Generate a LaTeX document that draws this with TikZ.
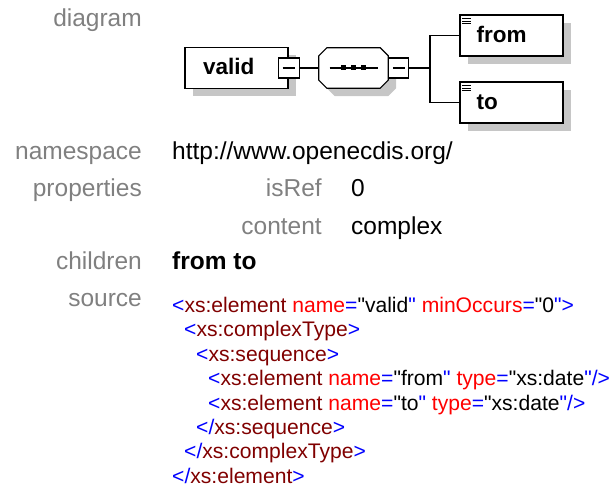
\documentclass[tikz,border=0pt]{standalone}
\usepackage{fontspec}
\setmainfont{Liberation Sans}
\newfontfamily\codefont{Liberation Sans}
\usetikzlibrary{positioning,shadows}
\definecolor{lblgray}{HTML}{808080}
\definecolor{xmlblue}{HTML}{0000FF}
\definecolor{xmlname}{HTML}{800000}
\definecolor{xmlattr}{HTML}{FF0000}
\definecolor{shadowgray}{HTML}{C6C6C6}
\newcommand{\xb}[1]{\textcolor{xmlblue}{#1}}
\newcommand{\xn}[1]{\textcolor{xmlname}{#1}}
\newcommand{\xa}[1]{\textcolor{xmlattr}{#1}}

\begin{document}
\begin{tikzpicture}[x=1pt, y=-1pt,
  lbl/.style={anchor=base east, inner sep=0pt, text=lblgray, font=\fontsize{24.5}{29}\selectfont},
  val/.style={anchor=base west, inner sep=0pt, font=\fontsize{24.5}{29}\selectfont},
  src/.style={anchor=base west, inner sep=0pt, font=\codefont\fontsize{21.1}{25}\selectfont},
  shade/.style={general shadow={fill=shadowgray, shadow xshift=8pt, shadow yshift=-8pt}},
  elem/.style={draw, line width=1.2pt, fill=white, minimum width=103pt, minimum height=41pt, inner sep=0pt, shade},
  etext/.style={anchor=base west, inner sep=0pt, font=\fontsize{22.5}{26}\selectfont\bfseries},
  minus/.style={draw, line width=1.2pt, fill=white, minimum width=21pt, minimum height=20pt, inner sep=0pt,
    path picture={\draw[line width=1.2pt] ([xshift=-6pt]path picture bounding box.center) -- ([xshift=6pt]path picture bounding box.center);}},
  seqbox/.style={minimum width=69pt, minimum height=40pt, inner sep=0pt},
  conn/.style={line width=1.2pt},
  dot/.style={fill, minimum size=5pt, inner sep=0pt}
]
  \useasboundingbox (0,0) rectangle (614,489);

  % diagram
  \node[elem] (valid) at (236.5,68) {};
  \node[etext] (validtxt) at (203,75) {valid};
  \node[minus] (vminus) at (valid.east) {};

  \node[seqbox] (seq) at (353.5,68) {};
  \filldraw[conn, fill=white, shade] ([xshift=8pt]seq.north west) -- ([xshift=-8pt]seq.north east)
    -- ([yshift=-8pt]seq.north east) -- ([yshift=8pt]seq.south east) -- ([xshift=-8pt]seq.south east)
    -- ([xshift=8pt]seq.south west) -- ([yshift=8pt]seq.south west) -- ([yshift=-8pt]seq.north west) -- cycle;
  \draw[conn] ([xshift=-24pt]seq.center) -- ([xshift=24pt]seq.center);
  \foreach \d in {-10,0,10}
    \node[dot] at ([xshift=\d pt]seq.center) {};
  \node[minus, minimum width=20pt, right=0pt of seq] (sminus) {};

  \node[elem] (from) at (511.5,35.5) {};
  \node[elem] (to) at (511.5,102.5) {};
  \node[etext] (fromtxt) at ([xshift=17pt,yshift=-28pt]from.north west) {from};
  \node[etext] (totxt) at ([xshift=17pt,yshift=-28pt]to.north west) {to};
  \foreach \b in {from,to}
    \foreach \dy in {4.3,6.7,9}
      \draw[line width=0.9pt] ([xshift=3pt,yshift=-\dy pt]\b.north west) -- ([xshift=12pt,yshift=-\dy pt]\b.north west);

  \coordinate (fork) at (430,68);
  \draw[conn] (vminus.east) -- (seq.west);
  \draw[conn] (sminus.east) -- (fork);
  \draw[conn] (fork) |- (from.west);
  \draw[conn] (fork) |- (to.west);

  % table
  \node[lbl] (ldiagram) at (142,27) {diagram};
  \node[lbl] (lnamespace) at (142,160) {namespace};
  \node[val] (vnamespace) at (172,160) {http://www.openecdis.org/};
  \node[lbl] (lproperties) at (142,197) {properties};
  \node[lbl] (lisref) at (322,197) {isRef};
  \node[val] (visref) at (351,197) {0};
  \node[lbl] (lcontent) at (322,235) {content};
  \node[val] (vcontent) at (351,235) {complex};
  \node[lbl] (lchildren) at (142,270) {children};
  \node[val, font=\fontsize{24.5}{29}\selectfont\bfseries] (vchildren) at (172,270) {from to};
  \node[lbl] (lsource) at (142,307) {source};

  % source
  \node[src] (src1) at (172,312.5) {\xb{<}\xn{xs:element} \xa{name}\xb{=}"valid\xb{"} \xa{minOccurs}\xb{=}"0\xb{">}};
  \node[src] (src2) at (184,336.9) {\xb{<}\xn{xs:complexType}\xb{>}};
  \node[src] (src3) at (196,361.3) {\xb{<}\xn{xs:sequence}\xb{>}};
  \node[src] (src4) at (208,385.7) {\xb{<}\xn{xs:element} \xa{name}\xb{=}"from\xb{"} \xa{type}\xb{=}"xs:date\xb{"/>}};
  \node[src] (src5) at (208,410.1) {\xb{<}\xn{xs:element} \xa{name}\xb{=}"to\xb{"} \xa{type}\xb{=}"xs:date\xb{"/>}};
  \node[src] (src6) at (196,434.5) {\xb{</}\xn{xs:sequence}\xb{>}};
  \node[src] (src7) at (184,458.9) {\xb{</}\xn{xs:complexType}\xb{>}};
  \node[src] (src8) at (172,483.3) {\xb{</}\xn{xs:element}\xb{>}};
\end{tikzpicture}
\end{document}
